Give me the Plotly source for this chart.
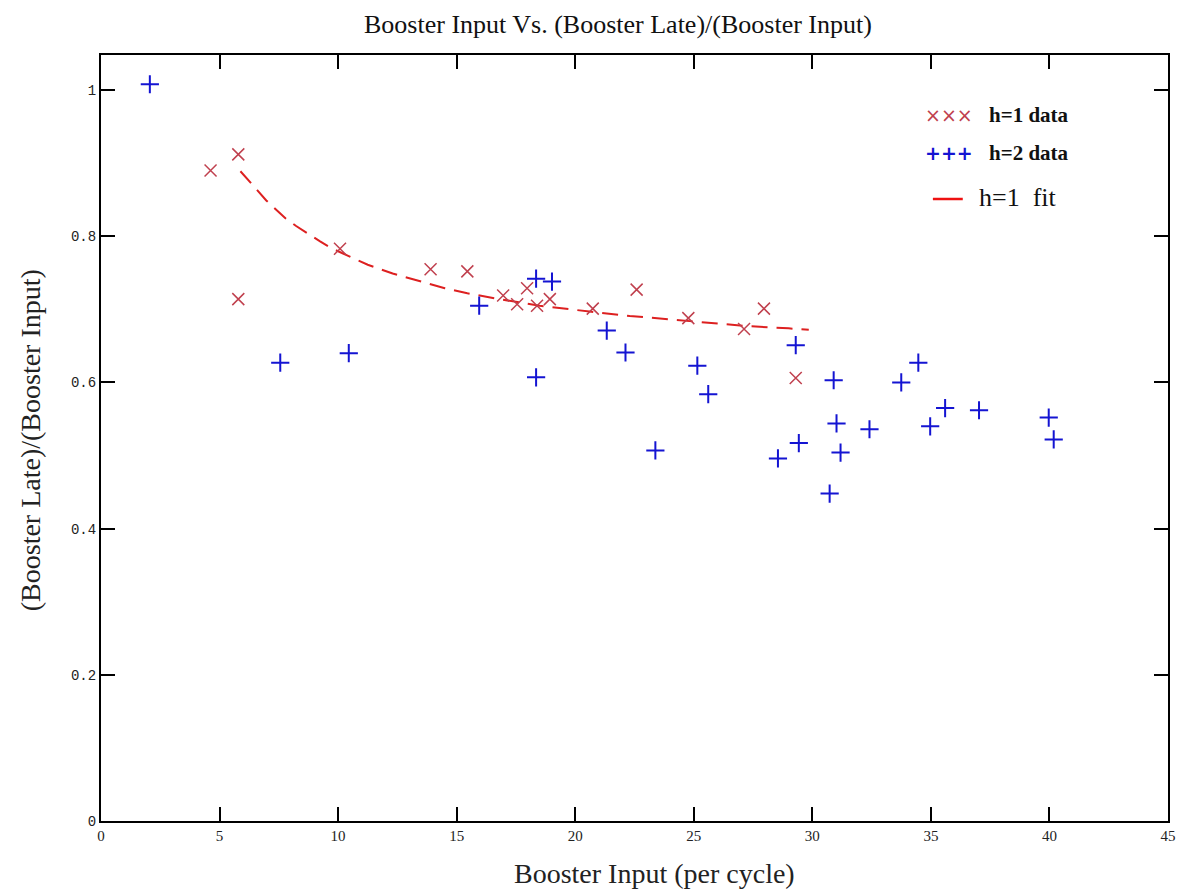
import plotly.graph_objects as go

# h=1 data (x markers)
h1_x = [4.62, 5.79, 5.79, 10.08, 13.90, 15.45, 16.96, 17.55, 17.97, 18.39, 18.93,
        20.74, 22.59, 24.77, 27.12, 27.96, 29.30]
h1_y = [0.890, 0.912, 0.714, 0.783, 0.755, 0.752, 0.719, 0.707, 0.729, 0.705, 0.714,
        0.701, 0.727, 0.688, 0.673, 0.701, 0.606]

# h=2 data (+ markers)
h2_x = [2.06, 7.56, 10.45, 15.95, 18.35, 18.35, 19.02, 21.33, 22.12, 23.38, 25.15,
        25.61, 28.55, 29.30, 29.43, 30.73, 30.90, 31.02, 31.19, 32.41, 33.75, 34.47,
        34.97, 35.60, 37.03, 39.97, 40.18]
h2_y = [1.008, 0.627, 0.640, 0.705, 0.742, 0.607, 0.738, 0.671, 0.641, 0.507, 0.623,
        0.584, 0.496, 0.651, 0.517, 0.448, 0.603, 0.544, 0.504, 0.536, 0.600, 0.627,
        0.540, 0.565, 0.562, 0.552, 0.522]

# h=1 fit curve
fit_x = [5.88, 6.5, 6.97, 7.8, 8.23, 9.24, 9.7, 10.7, 11.25, 12.3, 12.85, 13.9, 14.5,
         15.45, 16.8, 18.5, 19.5, 20.6, 22.3, 24.0, 25.65, 27.3, 29.0, 29.85]
fit_y = [0.889, 0.866, 0.849, 0.824, 0.814, 0.793, 0.784, 0.769, 0.761, 0.749, 0.744,
         0.734, 0.729, 0.722, 0.714, 0.705, 0.701, 0.697, 0.691, 0.686, 0.681, 0.677,
         0.674, 0.672]

x_ticks = [0, 5, 10, 15, 20, 25, 30, 35, 40, 45]
y_ticks = [0, 0.2, 0.4, 0.6, 0.8, 1]
y_tick_text = ["0", "0.2", "0.4", "0.6", "0.8", "1"]

RED_X = "#c0404e"
BLUE = "#1414d2"
FIT_RED = "#dd2020"

# page body has an 8px default margin; plot area spans screen x 101..1172, y 55..821
PL, PR, PT, PB = 101, 1172, 55, 821
PW, PH = PR - PL, PB - PT


def px(x):
    return (x - PL) / PW


def py(y):
    return (PB - y) / PH


fig = go.Figure()
fig.add_trace(go.Scatter(
    x=fit_x, y=fit_y, mode="lines", name="h=1 fit",
    line=dict(color=FIT_RED, width=2, dash="16px,9px"),
))
fig.add_trace(go.Scatter(
    x=h1_x, y=h1_y, mode="markers", name="h=1 data",
    marker=dict(symbol="x-thin-open", size=12, color=RED_X,
                line=dict(color=RED_X, width=1.5)),
))
fig.add_trace(go.Scatter(
    x=h2_x, y=h2_y, mode="markers", name="h=2 data",
    marker=dict(symbol="cross-thin-open", size=13, color=BLUE,
                line=dict(color=BLUE, width=2)),
))

axis_common = dict(
    showgrid=False, zeroline=False, showline=True, linecolor="black", linewidth=2,
    mirror="ticks", ticks="inside", ticklen=14, tickcolor="black", tickwidth=1.5,
)

fig.update_layout(
    width=1180, height=882,
    margin=dict(l=PL - 8, r=16, t=PT - 8, b=69),
    paper_bgcolor="white", plot_bgcolor="white",
    showlegend=False,
    xaxis=dict(range=[0, 45], tickvals=x_ticks, ticktext=[str(v) for v in x_ticks],
               tickfont=dict(family="Liberation Serif", size=15, color="#222"),
               **axis_common),
    yaxis=dict(range=[0, 1.048], tickvals=y_ticks, ticktext=y_tick_text,
               tickfont=dict(family="Liberation Mono", size=14, color="#222"),
               **axis_common),
    annotations=[
        dict(text="Booster Input Vs. (Booster Late)/(Booster Input)", xref="paper", yref="paper",
             x=px(620), y=py(9), showarrow=False,
             xanchor="center", yanchor="top", borderpad=0,
             font=dict(family="Liberation Serif", size=26, color="#111")),
        dict(text="Booster Input (per cycle)", xref="paper", yref="paper",
             x=px(657), y=py(873), showarrow=False,
             xanchor="center", yanchor="middle",
             font=dict(family="Liberation Serif", size=28, color="#222")),
        dict(text="(Booster Late)/(Booster Input)", xref="paper", yref="paper",
             x=px(30), y=py(440), showarrow=False, textangle=-90,
             xanchor="center", yanchor="middle",
             font=dict(family="Liberation Serif", size=28, color="#222")),
        # legend
        dict(text="×××", xref="paper", yref="paper",
             x=px(952), y=py(115), showarrow=False,
             xanchor="center", yanchor="middle",
             font=dict(family="DejaVu Sans", size=19, color=RED_X)),
        dict(text="<b>h=1 data</b>", xref="paper", yref="paper",
             x=px(990), y=py(115), showarrow=False,
             xanchor="left", yanchor="middle",
             font=dict(family="Liberation Serif", size=21, color="#111")),
        dict(text="<b>+++</b>", xref="paper", yref="paper",
             x=px(952), y=py(153), showarrow=False,
             xanchor="center", yanchor="middle",
             font=dict(family="DejaVu Sans", size=19, color=BLUE)),
        dict(text="<b>h=2 data</b>", xref="paper", yref="paper",
             x=px(990), y=py(153), showarrow=False,
             xanchor="left", yanchor="middle",
             font=dict(family="Liberation Serif", size=21, color="#111")),
        dict(text="h=1  fit", xref="paper", yref="paper",
             x=px(980), y=py(197), showarrow=False,
             xanchor="left", yanchor="middle",
             font=dict(family="Liberation Serif", size=26, color="#111")),
    ],
    shapes=[
        dict(type="line", xref="paper", yref="paper",
             x0=px(936), x1=px(966), y0=py(199), y1=py(199),
             line=dict(color="#ee1111", width=2.5)),
    ],
)

fig.write_html("out.html")
